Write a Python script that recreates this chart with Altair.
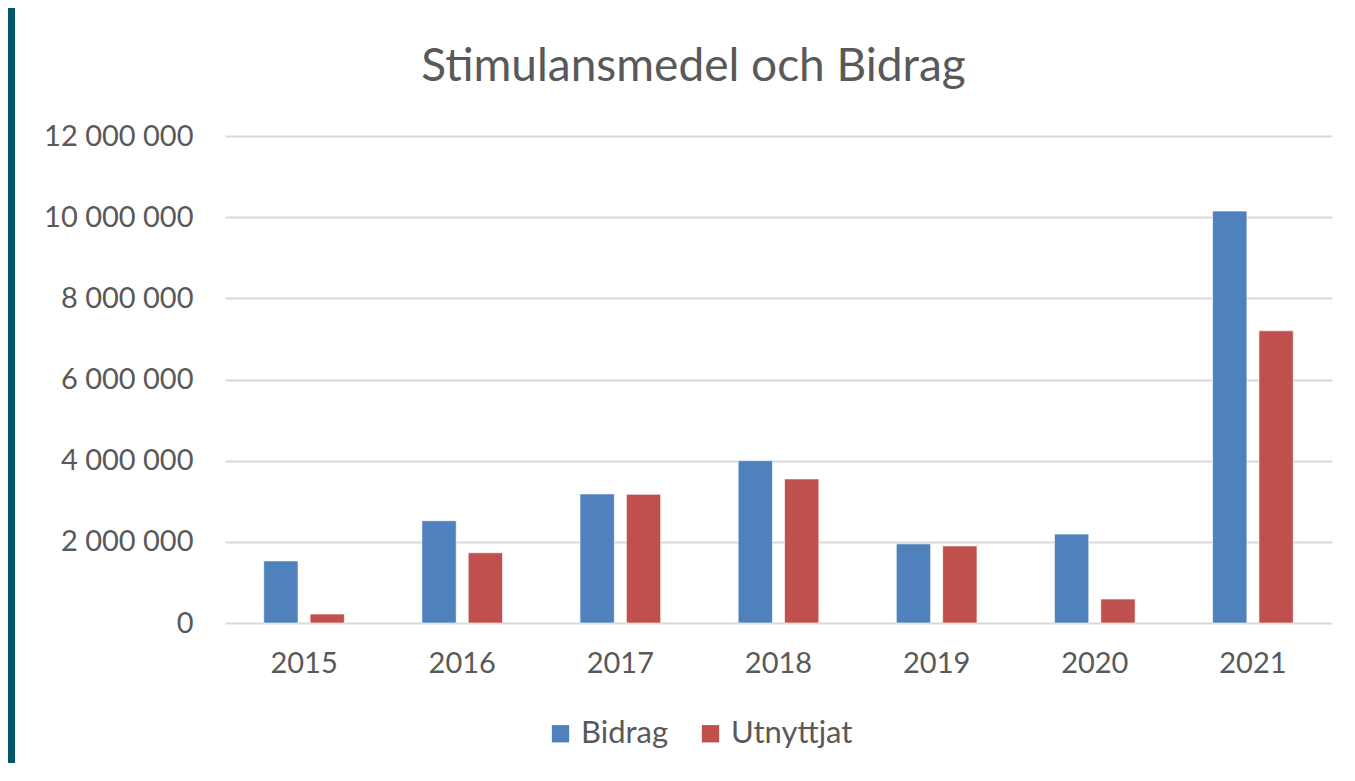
import altair as alt
import pandas as pd

years = ["2015", "2016", "2017", "2018", "2019", "2020", "2021"]
bidrag = [1530000, 2520000, 3180000, 4000000, 1950000, 2190000, 10150000]
utnyttjat = [220000, 1730000, 3170000, 3550000, 1900000, 590000, 7200000]
series = ["Bidrag", "Utnyttjat"]
colors = ["#4F81BD", "#C0504D"]
y_ticks = [0, 2000000, 4000000, 6000000, 8000000, 10000000, 12000000]

rows = []
for i, yr in enumerate(years):
    rows.append({"year": yr, "serie": series[0], "value": bidrag[i]})
    rows.append({"year": yr, "serie": series[1], "value": utnyttjat[i]})
df = pd.DataFrame(rows)

FONT = "Lato"
GREY = "#595959"

bars = alt.Chart(df).mark_bar(stroke="#ffffff", strokeOpacity=0.6, strokeWidth=1).encode(
    x=alt.X("year:N", sort=years, title=None,
            scale=alt.Scale(paddingInner=0.49, paddingOuter=0.245),
            axis=alt.Axis(labelAngle=0, labelFontSize=29, labelColor=GREY, labelFont=FONT,
                          labelPadding=26, ticks=False, domain=False, grid=False)),
    xOffset=alt.XOffset("serie:N", sort=series, scale=alt.Scale(paddingInner=0.26, paddingOuter=0)),
    y=alt.Y("value:Q", title=None,
            scale=alt.Scale(domain=[0, 12000000], nice=False),
            axis=alt.Axis(values=y_ticks, labelFontSize=29, labelColor=GREY, labelFont=FONT,
                          labelPadding=32, ticks=False, domain=False,
                          gridColor="#D9D9D9", gridWidth=2,
                          labelExpr="replace(format(datum.value, ',d'), /,/g, ' ')")),
    color=alt.Color("serie:N", sort=series, scale=alt.Scale(domain=series, range=colors),
                    legend=alt.Legend(title=None, orient="none", direction="horizontal",
                                      legendX=320, legendY=582, symbolType="square",
                                      symbolSize=300, symbolStrokeWidth=0,
                                      labelFontSize=31, labelColor=GREY, labelFont=FONT,
                                      labelOffset=5, columnPadding=26)),
)

border = alt.Chart(pd.DataFrame({"a": [0]})).mark_rect(color="#02576A", clip=False).encode(
    x=alt.value(-217), x2=alt.value(-210), y=alt.value(-128), y2=alt.value(660)
)

chart = alt.layer(bars, border).properties(
    width=1107,
    height=487,
    padding={"left": 217, "top": 128, "right": 15, "bottom": 140},
    autosize=alt.AutoSizeParams(type="none"),
    title=alt.TitleParams("Stimulansmedel och Bidrag", fontSize=46, font=FONT,
                          fontWeight="normal", color=GREY, offset=-83, dx=-85),
).configure_view(stroke=None)

chart.save("out.html", embed_options={"renderer": "svg", "actions": False})
